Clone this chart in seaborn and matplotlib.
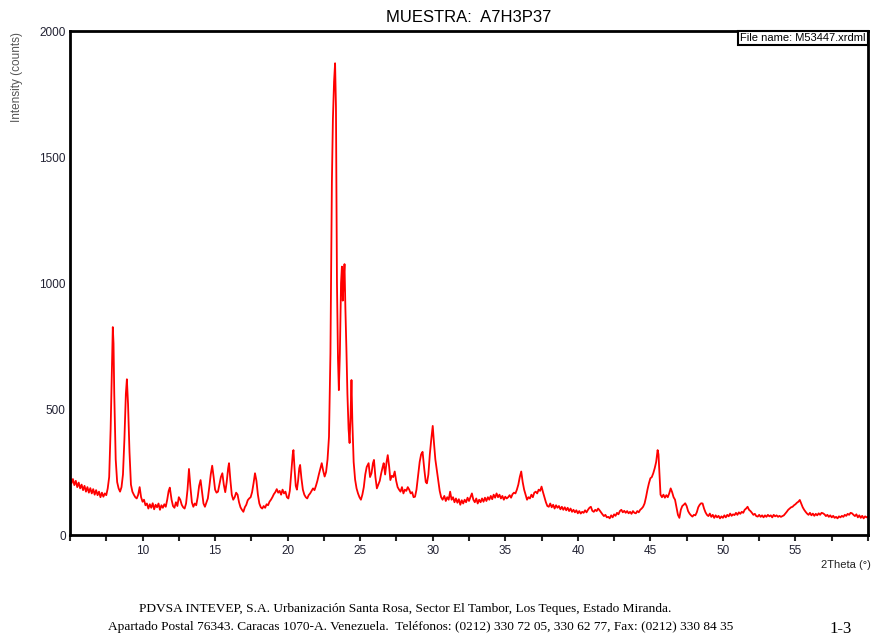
import matplotlib
matplotlib.use("Agg")
import matplotlib.pyplot as plt
import seaborn as sns
import numpy as np
import pandas as pd
from matplotlib.ticker import MultipleLocator, FixedLocator

# ---- data (2theta in degrees, intensity in counts) ----
seg_low = [
    (5.0, 230), (5.1, 205), (5.2, 222), (5.3, 198), (5.4, 215), (5.5, 190), (5.6, 208), (5.7, 185),
    (5.8, 200), (5.9, 178), (6.0, 195), (6.1, 172), (6.2, 190), (6.3, 168), (6.4, 186), (6.5, 165),
    (6.6, 182), (6.7, 160), (6.8, 178), (6.9, 158), (7.0, 172), (7.1, 150), (7.2, 168), (7.3, 152),
    (7.4, 165), (7.5, 158), (7.6, 185), (7.7, 230), (7.8, 420), (7.9, 700), (7.95, 825), (8.0, 760),
    (8.05, 560), (8.15, 300), (8.25, 210), (8.35, 185), (8.45, 172), (8.55, 190), (8.65, 240),
    (8.75, 380), (8.85, 560), (8.92, 618), (9.0, 520), (9.1, 330), (9.2, 200), (9.3, 172), (9.4, 160),
    (9.5, 150), (9.6, 145), (9.7, 160), (9.8, 190), (9.9, 150), (10.0, 132), (10.1, 140), (10.2, 118),
    (10.3, 125), (10.4, 105), (10.5, 122), (10.6, 108), (10.7, 126), (10.8, 102), (10.9, 120),
    (11.0, 110), (11.1, 125), (11.2, 100), (11.3, 118), (11.4, 108), (11.5, 122), (11.6, 112),
    (11.7, 140), (11.8, 175), (11.88, 188), (12.0, 140), (12.1, 115), (12.2, 108), (12.3, 130),
    (12.4, 115), (12.5, 150), (12.6, 140), (12.7, 120), (12.8, 110), (12.9, 105), (13.0, 125),
    (13.1, 180), (13.2, 262), (13.3, 190), (13.4, 130), (13.5, 112), (13.6, 125), (13.7, 118),
    (13.8, 150), (13.9, 195), (14.0, 218), (14.1, 170), (14.2, 125), (14.3, 112), (14.4, 128),
    (14.5, 145), (14.6, 190), (14.7, 240), (14.8, 275), (14.9, 230), (15.0, 180), (15.1, 168),
    (15.2, 172), (15.3, 200), (15.4, 230), (15.5, 245), (15.6, 200), (15.7, 170), (15.8, 210),
    (15.9, 265), (15.96, 285), (16.05, 220), (16.15, 160), (16.25, 140), (16.35, 150), (16.45, 168),
    (16.55, 160), (16.65, 130), (16.75, 110), (16.85, 100), (16.95, 92), (17.05, 110), (17.15, 120),
    (17.25, 138), (17.35, 145), (17.45, 150), (17.55, 170), (17.65, 205), (17.75, 245), (17.85, 215),
    (17.95, 160), (18.05, 125), (18.15, 110), (18.25, 105), (18.35, 115), (18.45, 108), (18.55, 122),
    (18.65, 118), (18.75, 132), (18.85, 140), (18.95, 150), (19.05, 162), (19.15, 170), (19.25, 182),
    (19.35, 168), (19.45, 175), (19.55, 160), (19.65, 180), (19.75, 165), (19.85, 172), (19.95, 150),
    (20.05, 145),
]

seg_main = [
    (20.15, 175), (20.25, 250), (20.35, 320), (20.4, 337), (20.48, 260), (20.56, 195), (20.64, 180),
    (20.72, 215), (20.8, 265), (20.86, 278), (20.95, 225), (21.05, 180), (21.15, 160), (21.25, 150),
    (21.35, 145), (21.45, 158), (21.55, 165), (21.65, 175), (21.75, 185), (21.85, 178), (21.95, 195),
    (22.05, 215), (22.15, 240), (22.25, 262), (22.35, 285), (22.45, 255), (22.55, 232), (22.65, 250),
    (22.75, 300), (22.85, 390), (22.95, 720), (23.05, 1400), (23.12, 1650), (23.2, 1800),
    (23.27, 1872), (23.33, 1700), (23.4, 1000), (23.47, 700), (23.53, 575), (23.6, 720),
    (23.68, 1000), (23.74, 1065), (23.8, 930), (23.86, 1010), (23.92, 1075), (23.98, 900),
    (24.05, 740), (24.12, 560), (24.2, 420), (24.27, 365), (24.34, 480), (24.4, 615), (24.46, 450),
    (24.55, 290), (24.65, 220), (24.75, 185), (24.85, 165), (24.95, 150), (25.05, 140), (25.15, 160),
    (25.25, 190), (25.35, 240), (25.45, 270), (25.58, 285), (25.68, 230), (25.78, 245), (25.88, 285),
    (25.95, 298), (26.05, 230), (26.15, 185), (26.25, 200), (26.35, 215), (26.45, 245), (26.55, 270),
    (26.62, 285), (26.72, 240), (26.82, 290), (26.9, 317), (27.0, 270), (27.08, 218), (27.18, 235),
    (27.28, 230), (27.38, 252), (27.48, 215), (27.58, 190), (27.68, 180), (27.78, 172), (27.88, 190),
    (27.98, 165), (28.08, 180), (28.18, 175), (28.28, 190), (28.38, 180), (28.48, 165), (28.58, 170),
    (28.68, 150), (28.78, 152), (28.88, 180), (28.98, 230), (29.1, 290), (29.2, 320), (29.3, 330),
    (29.42, 260), (29.52, 210), (29.6, 205), (29.7, 240), (29.8, 320), (29.9, 380), (30.0, 433),
    (30.08, 370), (30.18, 300), (30.28, 258), (30.38, 215), (30.48, 175), (30.58, 150), (30.68, 140),
]

seg_mid = [
    (30.8, 155), (30.9, 135), (31.0, 150), (31.1, 140), (31.2, 172), (31.3, 140), (31.4, 150),
    (31.5, 130), (31.6, 145), (31.7, 128), (31.8, 142), (31.9, 120), (32.0, 138), (32.1, 125),
    (32.2, 140), (32.3, 130), (32.4, 148), (32.5, 135), (32.6, 150), (32.7, 165), (32.8, 140),
    (32.9, 130), (33.0, 145), (33.1, 125), (33.2, 140), (33.3, 130), (33.4, 145), (33.5, 132),
    (33.6, 148), (33.7, 135), (33.8, 150), (33.9, 140), (34.0, 155), (34.1, 142), (34.2, 160),
    (34.3, 148), (34.4, 165), (34.5, 150), (34.6, 160), (34.7, 145), (34.8, 155), (34.9, 140),
    (35.0, 152), (35.1, 145), (35.2, 150), (35.3, 158), (35.4, 148), (35.5, 162), (35.6, 168),
    (35.7, 165), (35.8, 180), (35.9, 200), (36.0, 230), (36.1, 252), (36.2, 210), (36.3, 180),
    (36.4, 160), (36.5, 140), (36.6, 150), (36.7, 145), (36.8, 160), (36.9, 150), (37.0, 168),
    (37.1, 172), (37.2, 165), (37.3, 180), (37.4, 175), (37.5, 192), (37.6, 170), (37.7, 150),
    (37.8, 130), (37.9, 115), (38.0, 112), (38.1, 125), (38.2, 110), (38.3, 120), (38.4, 105),
    (38.5, 118), (38.6, 108), (38.7, 115), (38.8, 102), (38.9, 112), (39.0, 100), (39.1, 110),
    (39.2, 98), (39.3, 108), (39.4, 95), (39.5, 105), (39.6, 92), (39.7, 100), (39.8, 90), (39.9, 98),
    (40.0, 86), (40.1, 95), (40.2, 85), (40.3, 92), (40.4, 88), (40.5, 98), (40.6, 90), (40.7, 100),
    (40.8, 108), (40.9, 112), (41.0, 96), (41.1, 92), (41.2, 100), (41.3, 95), (41.4, 105),
    (41.5, 98), (41.6, 90), (41.7, 82), (41.8, 75), (41.9, 80), (42.0, 70), (42.1, 72), (42.2, 66),
    (42.3, 78), (42.4, 70), (42.5, 82), (42.6, 76), (42.7, 88), (42.8, 82), (42.9, 95), (43.0, 100),
    (43.1, 90), (43.2, 96), (43.3, 88), (43.4, 95), (43.5, 86), (43.6, 92), (43.7, 84), (43.8, 95),
    (43.9, 88), (44.0, 86), (44.1, 95), (44.2, 90), (44.3, 100), (44.4, 105), (44.5, 112),
]

seg_high = [
    (44.6, 125), (44.7, 150), (44.8, 180), (44.9, 205), (45.0, 225), (45.1, 230), (45.2, 245),
    (45.3, 265), (45.4, 290), (45.5, 337), (45.56, 320), (45.62, 250), (45.7, 160), (45.8, 150),
    (45.9, 160), (46.0, 148), (46.1, 158), (46.2, 150), (46.3, 165), (46.4, 185), (46.5, 170),
    (46.6, 150), (46.7, 140), (46.8, 110), (46.9, 80), (47.0, 68), (47.1, 100), (47.2, 115),
    (47.3, 120), (47.4, 126), (47.5, 115), (47.6, 95), (47.7, 85), (47.8, 78), (47.9, 73), (48.0, 80),
    (48.1, 78), (48.2, 90), (48.3, 110), (48.4, 120), (48.5, 126), (48.6, 125), (48.7, 105),
    (48.8, 90), (48.9, 80), (49.0, 75), (49.1, 85), (49.2, 72), (49.3, 80), (49.4, 68), (49.5, 78),
    (49.6, 70), (49.7, 76), (49.8, 66), (49.9, 74), (50.0, 68), (50.1, 78), (50.2, 70), (50.3, 80),
    (50.4, 74), (50.5, 85), (50.6, 76), (50.7, 82), (50.8, 79), (50.9, 88), (51.0, 80), (51.1, 90),
    (51.2, 84), (51.3, 92), (51.4, 88), (51.5, 100), (51.6, 105), (51.7, 112), (51.8, 100),
    (51.9, 95), (52.0, 88), (52.1, 80), (52.2, 84), (52.3, 75), (52.4, 73), (52.5, 80), (52.6, 72),
    (52.7, 78), (52.8, 70), (52.9, 78), (53.0, 72), (53.1, 80), (53.2, 74), (53.3, 78), (53.4, 70),
    (53.5, 80), (53.6, 74), (53.7, 78), (53.8, 72), (53.9, 76), (54.0, 72), (54.1, 75), (54.2, 78),
    (54.3, 85), (54.4, 92), (54.5, 100), (54.6, 105), (54.7, 110), (54.8, 112), (54.9, 118),
    (55.0, 122), (55.1, 128), (55.2, 132), (55.3, 139), (55.4, 125), (55.5, 110), (55.6, 100),
    (55.7, 92), (55.8, 85), (55.9, 80), (56.0, 88), (56.1, 78), (56.2, 85), (56.3, 76), (56.4, 84),
    (56.5, 78), (56.6, 86), (56.7, 80), (56.8, 88), (56.9, 86), (57.0, 82), (57.1, 75), (57.2, 80),
    (57.3, 72), (57.4, 78), (57.5, 70), (57.6, 76), (57.7, 68), (57.8, 72), (57.9, 66), (58.0, 74),
    (58.1, 70), (58.2, 76), (58.3, 72), (58.4, 80), (58.5, 76), (58.6, 84), (58.7, 80), (58.8, 88),
    (58.9, 86), (59.0, 80), (59.1, 75), (59.2, 82), (59.3, 70), (59.4, 78), (59.5, 68), (59.6, 76),
    (59.7, 66), (59.8, 74), (59.9, 70), (60.0, 73),
]

x_major_ticks = [10, 15, 20, 25, 30, 35, 40, 45, 50, 55]
y_ticks = [0, 500, 1000, 1500, 2000]

title_text = "MUESTRA:  A7H3P37"
file_text = "File name: M53447.xrdml"
footer_line1 = "PDVSA INTEVEP, S.A. Urbanización Santa Rosa, Sector El Tambor, Los Teques, Estado Miranda."
footer_line2 = "Apartado Postal 76343. Caracas 1070-A. Venezuela.  Teléfonos: (0212) 330 72 05, 330 62 77, Fax: (0212) 330 84 35"
page_text = "1-3"

# ---- build table ----
pts = seg_low + seg_main + seg_mid + seg_high
df = pd.DataFrame(pts, columns=["two_theta", "counts"])

sns.set_style("white")
plt.rcParams["font.family"] = ["Liberation Sans", "DejaVu Sans"]

fig = plt.figure(figsize=(8.73, 6.37), dpi=100)
ax = fig.add_axes([70 / 873, 1 - 535 / 637, (868 - 70) / 873, (535 - 31) / 637])

sns.lineplot(data=df, x="two_theta", y="counts", ax=ax, color="#ff0000",
             linewidth=1.3, estimator=None, sort=False)

ax.set_xlim(5, 60)
ax.set_ylim(0, 2000)
ax.xaxis.set_major_locator(FixedLocator(x_major_ticks))
ax.xaxis.set_minor_locator(MultipleLocator(2.5))
ax.set_yticks(y_ticks)
ax.tick_params(axis="x", which="both", direction="out", length=4, width=1.5,
               labelsize=8.5, labelcolor="#222233", pad=3, bottom=True)
ax.tick_params(axis="y", which="both", length=0, labelsize=8.5, labelcolor="#222233", pad=3, left=True)
ax.set_xlabel("")
ax.set_ylabel("")
for s in ax.spines.values():
    s.set_visible(True)
    s.set_linewidth(2)
    s.set_color("black")

ax.text(0.997, 0.996, file_text, transform=ax.transAxes, ha="right", va="top",
        fontsize=8, color="black",
        bbox=dict(boxstyle="square,pad=0.2", facecolor="white", edgecolor="black", linewidth=1.5))

fig.text(469 / 873, 1 - 17 / 637, title_text, ha="center", va="center", fontsize=12, color="black")
fig.text(17 / 873, 1 - 77 / 637, "Intensity (counts)", rotation=90, ha="center", va="center",
         fontsize=8.5, color="#555555")
fig.text(871 / 873, 1 - 565 / 637, "2Theta (°)", ha="right", va="center", fontsize=8, color="#222222")

fig.text(405 / 873, 1 - 609 / 637, footer_line1, ha="center", va="center", fontsize=9.6,
         family=["Liberation Serif", "DejaVu Serif"], color="black")
fig.text(421 / 873, 1 - 627 / 637, footer_line2, ha="center", va="center", fontsize=9.6,
         family=["Liberation Serif", "DejaVu Serif"], color="black")
fig.text(841 / 873, 1 - 629 / 637, page_text, ha="center", va="center", fontsize=12,
         family=["Liberation Serif", "DejaVu Serif"], color="black")

fig.savefig("out.png", dpi=100)
